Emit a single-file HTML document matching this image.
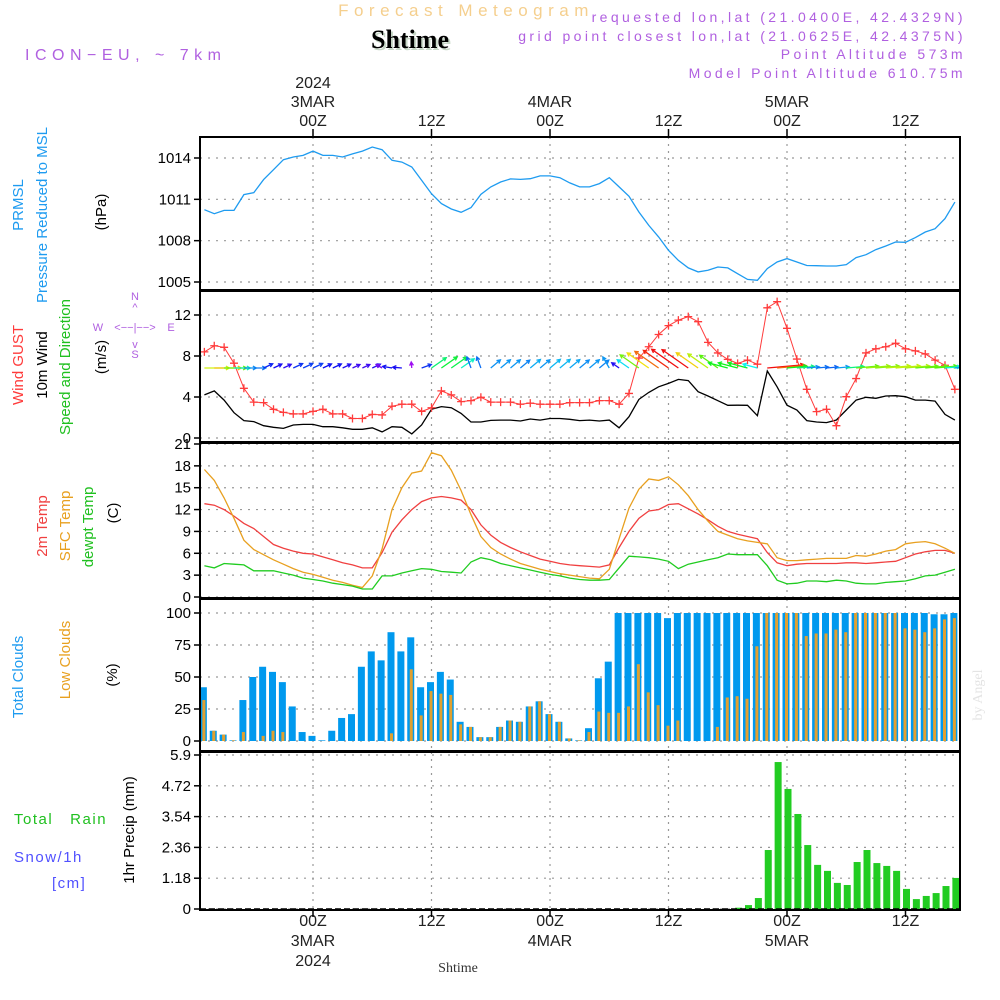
<!DOCTYPE html>
<html><head><meta charset="utf-8"><style>
html,body{margin:0;padding:0;background:#fff;}
svg{display:block;font-family:"Liberation Sans",sans-serif;}
</style></head><body>
<svg id="chart" width="1000" height="1000" viewBox="0 0 1000 1000" xmlns="http://www.w3.org/2000/svg">
<rect width="1000" height="1000" fill="#fff"/>
<text x="466" y="16" text-anchor="middle" font-size="17" fill="#f5cf8e" letter-spacing="5.5">Forecast Meteogram</text>
<text x="412" y="50" text-anchor="middle" font-size="26" font-weight="bold" font-family="Liberation Serif,serif" fill="#c8d8c8">Shtime</text>
<text x="410" y="48" text-anchor="middle" font-size="26" font-weight="bold" font-family="Liberation Serif,serif" fill="#000">Shtime</text>
<text x="25" y="60" font-size="16" fill="#b060e0" letter-spacing="5.5">ICON−EU, ~ 7km</text>
<g font-size="14" fill="#b060e0" text-anchor="end" letter-spacing="3.4">
<text x="966" y="22">requested lon,lat (21.0400E, 42.4329N)</text>
<text x="966" y="41">grid point closest lon,lat (21.0625E, 42.4375N)</text>
<text x="966" y="59">Point Altitude 573m</text>
<text x="966" y="78">Model Point Altitude 610.75m</text>
</g>
<g id="axes"></g>
<g font-size="15">
<text transform="translate(23,205) rotate(-90)" text-anchor="middle" fill="#1e9bf0">PRMSL</text>
<text transform="translate(47,215) rotate(-90)" text-anchor="middle" fill="#1e9bf0">Pressure Reduced to MSL</text>
<text transform="translate(106,212) rotate(-90)" text-anchor="middle" fill="#000">(hPa)</text>
<text transform="translate(23,365) rotate(-90)" text-anchor="middle" fill="#ff3b3b">Wind GUST</text>
<text transform="translate(47,365) rotate(-90)" text-anchor="middle" fill="#000">10m Wind</text>
<text transform="translate(70,367) rotate(-90)" text-anchor="middle" fill="#20c020">Speed and Direction</text>
<text transform="translate(106,357) rotate(-90)" text-anchor="middle" fill="#000">(m/s)</text>
<text transform="translate(47,526) rotate(-90)" text-anchor="middle" fill="#f04040">2m Temp</text>
<text transform="translate(70,526) rotate(-90)" text-anchor="middle" fill="#e8a020">SFC Temp</text>
<text transform="translate(93,527) rotate(-90)" text-anchor="middle" fill="#20c020">dewpt Temp</text>
<text transform="translate(118,513) rotate(-90)" text-anchor="middle" fill="#000">(C)</text>
<text transform="translate(23,677) rotate(-90)" text-anchor="middle" fill="#1e9bf0">Total Clouds</text>
<text transform="translate(70,660) rotate(-90)" text-anchor="middle" fill="#e8a020">Low Clouds</text>
<text transform="translate(117,675) rotate(-90)" text-anchor="middle" fill="#000">(%)</text>
<text transform="translate(134,830) rotate(-90)" text-anchor="middle" fill="#000">1hr Precip (mm)</text>
<text x="14" y="824" fill="#20c020" letter-spacing="1.5">Total&#160;&#160;&#160;Rain</text>
<text x="14" y="862" fill="#5050ff" letter-spacing="1.5">Snow/1h</text>
<text x="52" y="888" fill="#5050ff" letter-spacing="1.5">[cm]</text>
</g>
<g fill="#b060e0" font-size="11" text-anchor="middle">
<text x="135" y="300">N</text><text x="135" y="311">^</text>
<text x="98" y="331">W</text><text x="135" y="331">&lt;−−|−−&gt;</text><text x="171" y="331">E</text>
<text x="135" y="348">v</text><text x="135" y="358">S</text>
</g>
<text transform="translate(982,695) rotate(-90)" text-anchor="middle" font-size="14" font-family="Liberation Serif,serif" fill="#e4e4e4">by Angel</text>
<text x="458" y="972" text-anchor="middle" font-size="14" font-family="Liberation Serif,serif" fill="#333">Shtime</text>
<g id="plot"></g>
</svg>
<script>
// hours from -11 .. 65 relative to 00Z 3MAR
const pressure=[1010.25,1009.96,1010.2,1010.2,1011.34,1011.48,1012.43,1013.15,1013.88,1014.07,1014.19,1014.5,1014.19,1014.19,1014.07,1014.3,1014.5,1014.8,1014.6,1013.83,1013.7,1013.35,1012.38,1011.41,1010.69,1010.3,1010.06,1010.4,1011.36,1011.9,1012.26,1012.48,1012.45,1012.5,1012.7,1012.7,1012.57,1012.19,1011.9,1011.9,1012.14,1012.57,1011.9,1011.22,1010.08,1009.11,1008.27,1007.3,1006.57,1006.02,1005.73,1005.85,1006.09,1006.02,1005.6,1005.19,1005.12,1005.97,1006.45,1006.7,1006.45,1006.2,1006.18,1006.16,1006.16,1006.26,1006.77,1006.98,1007.35,1007.61,1007.9,1007.88,1008.22,1008.63,1008.87,1009.6,1010.8];
const gust=[8.4,9.0,8.85,7.3,4.85,3.5,3.45,2.8,2.5,2.35,2.35,2.6,2.8,2.35,2.35,1.9,1.9,2.3,2.25,3.1,3.3,3.3,2.6,2.95,4.6,4.2,3.55,3.65,3.97,3.5,3.5,3.5,3.3,3.4,3.3,3.3,3.3,3.45,3.45,3.45,3.65,3.65,3.3,4.35,7.8,8.9,10.1,10.96,11.5,11.84,11.35,9.33,8.3,7.67,7.28,7.6,7.2,12.7,13.3,10.7,7.7,4.75,2.57,2.8,1.2,4.03,5.8,8.3,8.7,8.9,9.24,8.7,8.5,8.2,7.6,7.1,4.75];
const wind10=[4.2,4.6,3.7,2.47,1.7,1.6,1.2,1.04,0.94,1.27,1.33,1.33,1.1,1.1,1.0,0.85,0.85,1.0,0.6,1.1,1.04,0.4,1.27,2.8,3.06,2.96,2.4,1.56,1.56,1.72,1.75,1.75,1.66,1.85,1.75,1.9,1.9,1.82,1.7,1.75,1.66,1.75,1.0,2.08,3.77,4.45,5.0,5.33,5.72,5.6,4.52,4.1,3.64,3.19,3.2,3.19,2.18,6.54,5.0,3.2,2.73,1.7,1.56,1.5,1.76,2.73,3.7,3.97,3.87,4.1,4.13,4.03,3.7,3.7,3.6,2.3,1.75];
const windDir=[0,0,0,0,0,0,25,25,25,25,25,25,25,25,25,25,25,25,150,170,175,95,20,35,35,35,35,110,110,40,40,40,40,40,40,40,40,40,40,40,40,120,145,145,145,145,145,145,145,145,145,145,145,165,165,165,165,5,5,5,5,5,5,5,5,5,5,5,5,5,5,5,5,5,5,5,5];
const temp2m=[12.8,12.6,12.0,11.1,10.1,9.4,8.3,7.2,6.7,6.3,6.0,5.9,5.5,5.1,4.7,4.4,4.0,4.0,6.1,8.9,10.6,12.0,13.1,13.6,13.8,13.6,13.3,12.0,9.9,8.5,7.5,6.8,6.2,5.7,5.2,4.9,4.6,4.4,4.3,4.2,4.1,4.4,6.8,9.0,10.8,11.8,12.0,12.7,12.8,12.1,11.4,10.6,9.7,9.0,8.6,8.3,8.0,6.1,4.7,4.3,4.5,4.6,4.6,4.6,4.6,4.7,4.7,4.6,4.7,4.8,4.9,5.4,5.9,6.2,6.4,6.4,6.0];
const tempSfc=[17.5,16.0,13.6,10.8,7.8,6.5,5.8,5.1,4.5,3.9,3.4,3.1,2.7,2.3,2.0,1.6,1.3,2.9,6.6,12.0,15.0,17.0,17.3,19.8,19.4,17.4,14.6,11.3,8.3,6.8,5.9,5.2,4.6,4.2,3.8,3.5,3.2,3.0,2.8,2.6,2.5,3.8,8.0,12.2,14.8,16.2,16.0,16.5,15.4,13.9,12.0,10.4,9.0,8.5,8.0,7.7,7.5,7.3,5.4,5.0,5.0,5.1,5.2,5.3,5.3,5.3,5.7,5.6,5.9,6.3,6.5,7.3,7.5,7.6,7.3,6.7,6.0];
const dewpt=[4.3,4.0,4.6,4.5,4.4,3.6,3.6,3.6,3.3,3.0,2.6,2.4,2.2,1.9,1.7,1.5,1.1,1.1,2.9,2.9,3.3,3.6,3.9,3.8,3.5,3.4,3.3,4.8,5.4,5.1,4.6,4.3,4.0,3.7,3.4,3.1,2.9,2.6,2.4,2.3,2.3,2.4,4.0,5.6,5.5,5.4,5.2,4.9,3.9,4.5,4.8,5.1,5.4,5.9,5.8,5.8,5.8,4.3,2.3,1.8,1.9,2.2,2.2,2.1,2.3,2.2,1.9,1.8,1.8,2.0,2.1,2.2,2.5,2.9,3.0,3.4,3.8];
const totalClouds=[42,8,5,0.5,32,50,58,54,46,27,7,4,0.5,8,18,21,58,70,63,85,70,81,42,46,54,48,15,11,3,3,11,16,15,27,31,21,15,2,0.5,10,49,62,100,100,100,100,100,96,100,100,100,100,100,100,100,100,100,100,100,100,100,100,100,100,100,100,100,100,100,100,100,100,100,100,99,99,100];
const lowClouds=[32,8,5,0.5,7,0,4,8,7,0,0,0,0,0,0,0,0,0,0,6,0,56,20,39,37,36,13,11,3,3,11,16,15,27,31,21,15,2,0.5,7,23,22,22,27,60,38,28,12,16,0,0,0,11,34,35,33,74,100,100,100,100,82,84,84,87,85,100,100,100,100,100,88,87,85,88,95,96];
const precip=[0,0,0,0,0,0,0,0,0,0,0,0,0,0,0,0,0,0,0,0,0,0,0,0,0,0,0,0,0,0,0,0,0,0,0,0,0,0,0,0,0,0,0,0,0,0,0,0,0,0,0,0,0,0,0.05,0.15,0.42,2.26,5.63,4.6,3.64,2.45,1.69,1.46,1.0,0.92,1.8,2.26,1.76,1.65,1.46,0.77,0.38,0.5,0.61,0.88,1.19];
const pressTicks=[1005,1008,1011,1014];
const windTicks=[0,4,8,12];
const tempTicks=[0,3,6,9,12,15,18,21];
const cloudTicks=[0,25,50,75,100];
const precipTicks=[0,1.18,2.36,3.54,4.72,5.9];
const timeTicks=[0,12,24,36,48,60];
const timeHourLabels=["00Z","12Z","00Z","12Z","00Z","12Z"];
const timeDayLabels=["3MAR","","4MAR","","5MAR",""];
const timeYearLabels=["2024","","","","",""];
const START_HOUR=-11;
</script>
<script>
const NS="http://www.w3.org/2000/svg";
const plot=document.getElementById('plot');
const axes=document.getElementById('axes');
const X0=200,X1=960;
function xT(h){return 313+h*9.875;}
function xi(i){return xT(i+START_HOUR);}
function mk(tag,attrs,parent){const e=document.createElementNS(NS,tag);for(const k in attrs)e.setAttribute(k,attrs[k]);(parent||plot).appendChild(e);return e;}
function lin(d0,d1,p0,p1){return v=>p0+(v-d0)*(p1-p0)/(d1-d0);}
const panels=[
 {name:'pressure',top:137,bot:290,y:lin(1005,1014,282,158),ticks:pressTicks,fmt:v=>String(v)},
 {name:'wind',top:291,bot:442,y:lin(0,12,438,315),ticks:windTicks,fmt:v=>String(v)},
 {name:'temperature',top:443,bot:598,y:lin(0,21,597,444),ticks:tempTicks,fmt:v=>String(v)},
 {name:'clouds',top:599,bot:751,y:lin(0,100,741,613),ticks:cloudTicks,fmt:v=>String(v)},
 {name:'precip',top:752,bot:910,y:lin(0,5.9,909,755),ticks:precipTicks,fmt:v=>String(v)}
];
panels.forEach(p=>{
  timeTicks.forEach(h=>{
    const g=mk('line',{x1:xT(h),x2:xT(h),y1:p.top,y2:p.bot,stroke:'#999','stroke-dasharray':'2 5','stroke-width':1.2},axes);
    
    
  });
  p.ticks.forEach(v=>{
    const y=p.y(v);
    const g=mk('line',{x1:X0,x2:X1,y1:y,y2:y,stroke:'#999','stroke-dasharray':'2 6','stroke-width':1.2},axes);
    
    
    const t=mk('line',{x1:X0-6,x2:X0,y1:y,y2:y,stroke:'#000','stroke-width':1.5},axes);
    
    
    const l=mk('text',{x:X0-9,y:y+5,'text-anchor':'end','font-size':15,fill:'#000'},axes);
    
    
    l.textContent=p.fmt(v);
  });
});
timeTicks.forEach((h,k)=>{
  const x=xT(h);
  [[timeYearLabels[k],88],[timeDayLabels[k],107],[timeHourLabels[k],126]].forEach(([s,y])=>{
    if(!s)return;
    const t=mk('text',{x:x,y:y,'text-anchor':'middle','font-size':16,fill:'#222'},axes);
    
    
    t.textContent=s;
  });
  [[timeHourLabels[k],926],[timeDayLabels[k],946],[timeYearLabels[k],966]].forEach(([s,y])=>{
    if(!s)return;
    const t=mk('text',{x:x,y:y,'text-anchor':'middle','font-size':16,fill:'#222'},axes);
    
    
    t.textContent=s;
  });
  const a=mk('line',{x1:x,x2:x,y1:129,y2:137,stroke:'#000','stroke-width':1.5},axes);
  
  
  const b=mk('line',{x1:x,x2:x,y1:910,y2:917,stroke:'#000','stroke-width':1.5},axes);
  
  
});
function poly(arr,yf,color,name,w){
  const pts=arr.map((v,i)=>xi(i).toFixed(1)+','+yf(v).toFixed(1)).join(' ');
  const e=mk('polyline',{points:pts,fill:'none',stroke:color,'stroke-width':w||1.3});
  
  
  return e;
}
const cp=mk('clipPath',{id:'clip'});const cr=mk('rect',{x:X0,y:130,width:X1-X0,height:790},cp);
poly(pressure,panels[0].y,'#1e9bf0','pressure-line');
poly(wind10,panels[1].y,'#000','wind-10m-line');
poly(gust,panels[1].y,'#ff3b3b','wind-gust-line',1);
gust.forEach((v,i)=>{
  const x=xi(i),y=panels[1].y(v);
  const m=mk('path',{d:`M${x-4} ${y}H${x+4}M${x} ${y-4}V${y+4}`,stroke:'#ff3b3b','stroke-width':1.3});
  
  
});
const ag=mk('g',{'clip-path':'url(#clip)'});


wind10.forEach((s,i)=>{
  const a=windDir[i]*Math.PI/180,L=4+s*5;
  const x=xi(i),y=368,x2=x+L*Math.cos(a),y2=y-L*Math.sin(a);
  const hue=Math.max(0,Math.min(280,300-s*55));
  const col=`hsl(${hue},90%,50%)`;
  const h1=a+Math.PI-0.5,h2=a+Math.PI+0.5;
  const e=mk('path',{d:`M${x} ${y}L${x2} ${y2}M${x2+4*Math.cos(h1)} ${y2-4*Math.sin(h1)}L${x2} ${y2}L${x2+4*Math.cos(h2)} ${y2-4*Math.sin(h2)}`,stroke:col,'stroke-width':1.3,fill:'none'},ag);
  
  
});
poly(temp2m,panels[2].y,'#f04040','temp-2m-line');
poly(tempSfc,panels[2].y,'#e8a020','temp-sfc-line');
poly(dewpt,panels[2].y,'#20cc20','dewpoint-line');
const cg=mk('g',{'clip-path':'url(#clip)'});
const y3=panels[3].y;
totalClouds.forEach((v,i)=>{
  const x=xi(i)-1;
  const b=mk('rect',{x:x-3.5,y:y3(v),width:7,height:y3(0)-y3(v),fill:'#0099ee'},cg);
  
  
  const o=mk('rect',{x:x-1,y:y3(lowClouds[i]),width:3,height:y3(0)-y3(lowClouds[i]),fill:'#e0a030'},cg);
  
  
});
const y4=panels[4].y;
precip.forEach((v,i)=>{
  if(v<=0)return;
  const x=xi(i)+1;
  const b=mk('rect',{x:x-3.5,y:y4(v),width:7,height:y4(0)-y4(v),fill:'#22cc22'},cg);
  
  
});
const zl=mk('line',{x1:X0,x2:X1,y1:909,y2:909,stroke:'#000','stroke-dasharray':'6 3','stroke-width':1.5});


panels.forEach(p=>{
  const r=mk('rect',{x:X0,y:p.top,width:X1-X0,height:p.bot-p.top,fill:'none',stroke:'#000','stroke-width':2});
  
  
});
</script>
</body></html>
